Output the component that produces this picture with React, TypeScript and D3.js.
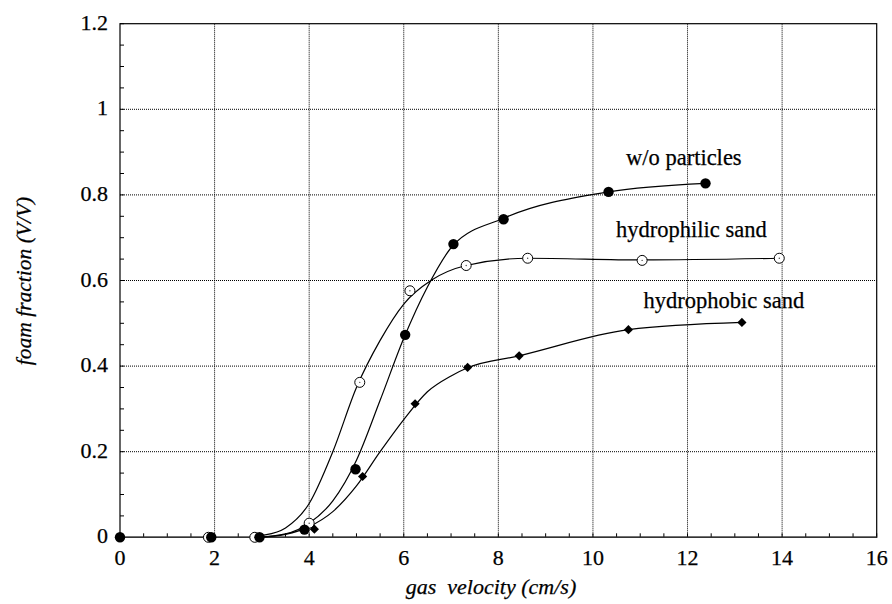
import React from "react";
import * as d3 from "d3";

const xTicks = [0, 2, 4, 6, 8, 10, 12, 14, 16];
const yTicks = [0, 0.2, 0.4, 0.6, 0.8, 1, 1.2];
const yTickLabels = ["0", "0.2", "0.4", "0.6", "0.8", "1", "1.2"];

// measured points
const noPartX = [0, 1.93, 2.95, 3.9, 4.98, 6.03, 7.05, 8.11, 10.33, 12.38];
const noPartY = [0, 0, 0, 0.018, 0.159, 0.473, 0.685, 0.743, 0.807, 0.827];
const philicX = [1.87, 2.85, 4.0, 5.07, 6.13, 7.32, 8.62, 11.04, 13.94];
const philicY = [0, 0, 0.033, 0.362, 0.576, 0.635, 0.652, 0.647, 0.652];
const phobicX = [4.11, 5.13, 6.24, 7.35, 8.44, 10.75, 13.15];
const phobicY = [0.019, 0.142, 0.312, 0.397, 0.424, 0.485, 0.502];

// fitted curves
const noPartFitX = [2.9, 3.5, 4.0, 4.5, 5.0, 5.5, 6.0, 6.5, 7.05, 8.1, 10.33, 12.38];
const noPartFitY = [0, 0.008, 0.033, 0.085, 0.18, 0.32, 0.465, 0.585, 0.683, 0.745, 0.807, 0.827];
const philicFitX = [2.75, 3.0, 3.5, 4.0, 4.5, 5.0, 5.5, 6.0, 6.59, 7.32, 8.62, 11.04, 13.94];
const philicFitY = [0, 0.004, 0.022, 0.079, 0.2, 0.35, 0.46, 0.545, 0.601, 0.635, 0.652, 0.648, 0.652];
const phobicFitX = [2.9, 3.5, 4.0, 4.5, 5.0, 5.5, 6.0, 6.5, 7.0, 7.35, 8.44, 10.75, 13.15];
const phobicFitY = [0, 0.007, 0.025, 0.06, 0.12, 0.2, 0.275, 0.34, 0.377, 0.396, 0.424, 0.485, 0.502];

const labels = ["w/o particles", "hydrophilic sand", "hydrophobic sand"];
const labelX = [10.7, 10.49, 11.07];
const labelY = [0.87, 0.701, 0.535];

const W = 892;
const H = 604;
const FONT = "'Liberation Serif', 'Times New Roman', serif";

export default function App() {
  const x = d3.scaleLinear().domain([0, 16]).range([120, 876.7]);
  const y = d3.scaleLinear().domain([0, 1.2]).range([537.3, 23.7]);
  const line = d3
    .line<[number, number]>()
    .x((d) => x(d[0]))
    .y((d) => y(d[1]))
    .curve(d3.curveMonotoneX);
  const zip = (a: number[], b: number[]) => a.map((v, i) => [v, b[i]] as [number, number]);

  const xMinor = d3.range(0, 16.001, 0.5);
  const yMinor = d3.range(0, 1.2001, 0.05);
  const [x0, x1] = x.range();
  const [y0, y1] = y.range();
  const ts = { fontFamily: FONT };
  const tStroke = { stroke: "#000", strokeWidth: 0.25 };

  return (
    <svg
      width={W}
      height={H}
      style={{ position: "absolute", left: 0, top: 0, background: "#fff", fontFamily: FONT }}
    >
      <rect x={0} y={0} width={W} height={H} fill="#fff" />
      {/* grid */}
      {xTicks.slice(1, -1).map((t) => (
        <line key={"gx" + t} x1={x(t)} x2={x(t)} y1={y0} y2={y1} stroke="#000" strokeWidth={1} strokeDasharray="1 1" />
      ))}
      {yTicks.slice(1, -1).map((t) => (
        <line key={"gy" + t} x1={x0} x2={x1} y1={y(t)} y2={y(t)} stroke="#000" strokeWidth={1} strokeDasharray="1 1" />
      ))}
      {/* minor ticks */}
      {xMinor.map((t) => (
        <line key={"mx" + t} x1={x(t)} x2={x(t)} y1={y0} y2={y0 - 4} stroke="#000" strokeWidth={1} />
      ))}
      {yMinor.map((t) => (
        <line key={"my" + t} x1={x0} x2={x0 + 4} y1={y(t)} y2={y(t)} stroke="#000" strokeWidth={1} />
      ))}
      {/* frame */}
      <rect x={x0} y={y1} width={x1 - x0} height={y0 - y1} fill="none" stroke="#000" strokeWidth={1.2} />
      <line x1={x0} x2={x1} y1={y0} y2={y0} stroke="#333" strokeWidth={1.6} />
      {/* tick labels */}
      {xTicks.map((t) => (
        <text key={"tx" + t} x={x(t)} y={565} textAnchor="middle" fontSize={22} style={ts} {...tStroke}>
          {t}
        </text>
      ))}
      {yTicks.map((t, i) => (
        <text key={"ty" + t} x={108} y={y(t) + 6} textAnchor="end" fontSize={22} style={ts} {...tStroke}>
          {yTickLabels[i]}
        </text>
      ))}
      {/* axis titles */}
      <text x={491} y={594} textAnchor="middle" fontSize={22} fontStyle="italic" xmlSpace="preserve" style={ts} {...tStroke}>
        gas  velocity (cm/s)
      </text>
      <text
        transform={`translate(31,281) rotate(-90)`}
        textAnchor="middle"
        fontSize={21.5}
        fontStyle="italic"
        style={ts}
        {...tStroke}
      >
        foam fraction (V/V)
      </text>
      {/* curves */}
      {[zip(noPartFitX, noPartFitY), zip(philicFitX, philicFitY), zip(phobicFitX, phobicFitY)].map((d, i) => (
        <path key={"c" + i} d={line(d) || ""} fill="none" stroke="#000" strokeWidth={1.2} />
      ))}
      {/* markers */}
      {zip(philicX, philicY).map((d, i) => (
        <g key={"o" + i}>
          <circle cx={x(d[0])} cy={y(d[1])} r={5} fill="#fff" stroke="#000" strokeWidth={1} />
          <circle cx={x(d[0])} cy={y(d[1])} r={0.7} fill="#444" />
        </g>
      ))}
      {zip(noPartX, noPartY).map((d, i) => (
        <circle key={"f" + i} cx={x(d[0])} cy={y(d[1])} r={5.2} fill="#000" />
      ))}
      {zip(phobicX, phobicY).map((d, i) => {
        const cx = x(d[0]);
        const cy = y(d[1]);
        const r = 4.6;
        return <path key={"d" + i} d={`M${cx},${cy - r}L${cx + r},${cy}L${cx},${cy + r}L${cx - r},${cy}Z`} fill="#000" />;
      })}
      {/* labels */}
      {labels.map((l, i) => (
        <text key={"l" + i} x={x(labelX[i])} y={y(labelY[i])} fontSize={22.5} style={ts} {...tStroke}>
          {l}
        </text>
      ))}
    </svg>
  );
}
